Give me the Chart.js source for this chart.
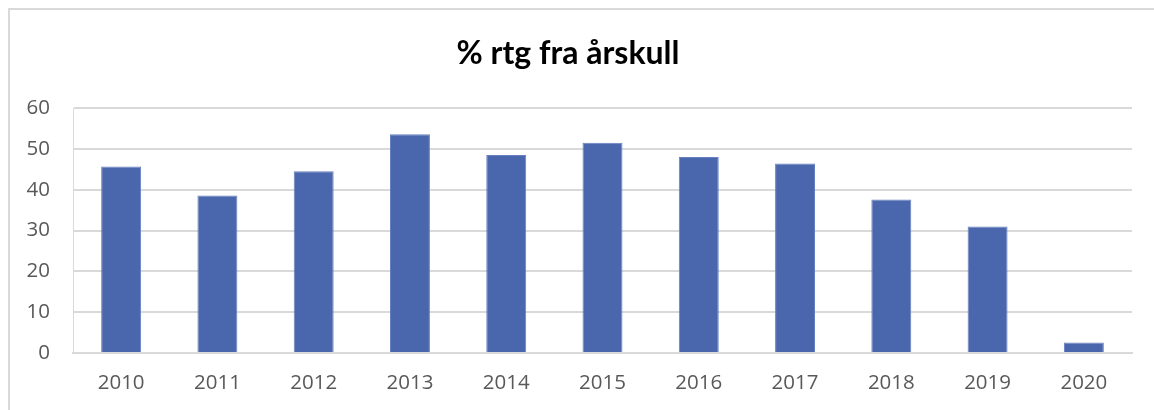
<!DOCTYPE html>
<html>
<head>
<meta charset="utf-8">
<script src="https://cdn.jsdelivr.net/npm/chart.js@4/dist/chart.umd.min.js"></script>
<style>
  html, body { margin: 0; padding: 0; background: #ffffff; overflow: hidden; }
  #wrap { position: relative; width: 1154px; height: 410px; }
  #frame { position: absolute; left: 8px; top: 8px; width: 1200px; height: 500px;
           border-left: 2px solid #d9d9d9; border-top: 2px solid #d9d9d9; box-sizing: border-box; }
  canvas { position: absolute; left: 0; top: 0; }
</style>
</head>
<body>
<div id="wrap">
  <div id="frame"></div>
  <canvas id="c" width="1154" height="410"></canvas>
</div>
<script>
const chartTitle = "% rtg fra årskull";
const categories = ["2010","2011","2012","2013","2014","2015","2016","2017","2018","2019","2020"];
const values = [45.7, 38.6, 44.5, 53.6, 48.5, 51.5, 48.0, 46.4, 37.6, 31.0, 2.6];
const yTicks = [0, 10, 20, 30, 40, 50, 60];

new Chart(document.getElementById('c'), {
  type: 'bar',
  data: {
    labels: categories,
    datasets: [{
      data: values,
      backgroundColor: '#4a66ac',
      borderColor: '#6680c0',
      borderWidth: 1,
      categoryPercentage: 1.0,
      barPercentage: 0.415
    }]
  },
  options: {
    responsive: false,
    animation: false,
    devicePixelRatio: 1,
    layout: { padding: { left: 4, right: 22, top: 10, bottom: 0 } },
    plugins: {
      legend: { display: false },
      tooltip: { enabled: false },
      title: {
        display: true,
        text: chartTitle,
        color: '#000000',
        font: { family: 'Lato', size: 32, weight: 'bold' },
        padding: { top: 24, bottom: 35.6 }
      }
    },
    scales: {
      x: {
        grid: { display: false, drawTicks: false },
        border: { display: true, color: '#d9d9d9', width: 2 },
        ticks: { color: '#595959', font: { family: 'Open Sans', size: 20.5 }, padding: 18, maxRotation: 0 },
        afterFit: (s) => { s.height = 57; }
      },
      y: {
        min: 0, max: 60,
        afterBuildTicks: (s) => { s.ticks = yTicks.map(v => ({ value: v })); },
        grid: { color: '#d9d9d9', lineWidth: 2, drawTicks: false },
        border: { display: true, color: '#d9d9d9', width: 1 },
        ticks: { color: '#595959', font: { family: 'Open Sans', size: 20.5 }, padding: 23 },
        afterFit: (s) => { s.width = 69; }
      }
    }
  }
});
</script>
</body>
</html>
